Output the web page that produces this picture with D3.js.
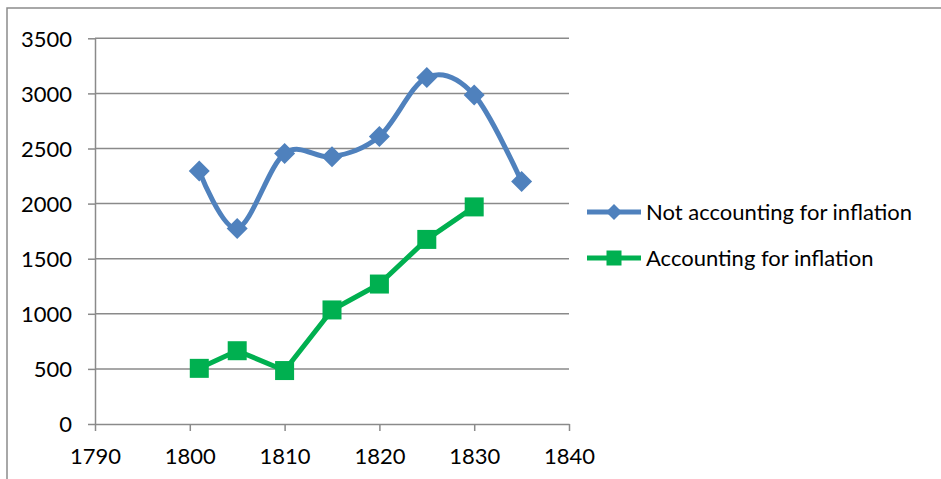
<!DOCTYPE html>
<html>
<head>
<meta charset="utf-8">
<script src="https://cdn.jsdelivr.net/npm/d3@7"></script>
<style>
  html, body { margin: 0; padding: 0; background: #fff; }
  svg { display: block; font-family: Lato, "Open Sans", sans-serif; }
</style>
</head>
<body>
<svg id="chart" width="941" height="479"></svg>
<script>
// Years sampled for each series
const yearsNotAdj = [1801, 1805, 1810, 1815, 1820, 1825, 1830, 1835];
const valuesNotAdj = [2295, 1775, 2455, 2425, 2610, 3145, 2985, 2200];

const yearsAdj = [1801, 1805, 1810, 1815, 1820, 1825, 1830];
const valuesAdj = [505, 665, 485, 1035, 1270, 1675, 1970];

const seriesNames = ["Not accounting for inflation", "Accounting for inflation"];
const seriesColors = ["#4f81bd", "#00b050"];

const xTicks = [1790, 1800, 1810, 1820, 1830, 1840];
const yTicks = [0, 500, 1000, 1500, 2000, 2500, 3000, 3500];

const svg = d3.select("#chart");
const gridColor = "#8a8a8a";
const fontSize = 22;

// Outer chart frame (left and top edges visible)
svg.append("path")
  .attr("d", "M7,479 L7,8 L941,8")
  .attr("fill", "none")
  .attr("stroke", "#8c8c8c")
  .attr("stroke-width", 1.5);

const x = d3.scaleLinear().domain([1790, 1840]).range([95, 569]);
const y = d3.scaleLinear().domain([0, 3500]).range([424, 38.3]);

// Horizontal gridlines
svg.append("g")
  .selectAll("line")
  .data(yTicks.filter(d => d > 0))
  .join("line")
  .attr("x1", x(1790)).attr("x2", x(1840))
  .attr("y1", d => y(d)).attr("y2", d => y(d))
  .attr("stroke", gridColor)
  .attr("stroke-width", 1.5);

// Y axis
const yAxis = svg.append("g")
  .attr("transform", `translate(${x(1790)},0)`)
  .call(d3.axisLeft(y).tickValues(yTicks).tickFormat(d3.format("d"))
    .tickSize(7).tickSizeOuter(0).tickPadding(16));
yAxis.selectAll("path, line").attr("stroke", gridColor).attr("stroke-width", 1.5);
yAxis.selectAll("text")
  .attr("font-size", fontSize)
  .attr("font-family", "Lato, sans-serif")
  .attr("fill", "#000")
  .attr("dy", "0.36em");

// X axis
const xAxis = svg.append("g")
  .attr("transform", `translate(0,${y(0)})`)
  .call(d3.axisBottom(x).tickValues(xTicks).tickFormat(d3.format("d")).tickSize(7).tickSizeOuter(0));
xAxis.selectAll("path, line").attr("stroke", gridColor).attr("stroke-width", 1.5);
xAxis.selectAll("text")
  .attr("font-size", fontSize)
  .attr("font-family", "Lato, sans-serif")
  .attr("fill", "#000")
  .attr("y", 40)
  .attr("dy", 0);

const notAdj = yearsNotAdj.map((yr, i) => ({ year: yr, value: valuesNotAdj[i] }));
const adj = yearsAdj.map((yr, i) => ({ year: yr, value: valuesAdj[i] }));

// Smoothed line for nominal values
svg.append("path")
  .datum(notAdj)
  .attr("fill", "none")
  .attr("stroke", seriesColors[0])
  .attr("stroke-width", 5)
  .attr("stroke-linejoin", "round")
  .attr("d", d3.line().x(d => x(d.year)).y(d => y(d.value)).curve(d3.curveCardinal.tension(0)));

// Straight line for inflation-adjusted values
svg.append("path")
  .datum(adj)
  .attr("fill", "none")
  .attr("stroke", seriesColors[1])
  .attr("stroke-width", 5)
  .attr("stroke-linejoin", "round")
  .attr("d", d3.line().x(d => x(d.year)).y(d => y(d.value)));

// Diamond markers
const diamond = r => `M0,${-r} L${r},0 L0,${r} L${-r},0 Z`;
svg.append("g")
  .selectAll("path")
  .data(notAdj)
  .join("path")
  .attr("transform", d => `translate(${x(d.year)},${y(d.value)})`)
  .attr("d", diamond(10.5))
  .attr("fill", seriesColors[0]);

// Square markers
const sq = 19;
svg.append("g")
  .selectAll("rect")
  .data(adj)
  .join("rect")
  .attr("x", d => x(d.year) - sq / 2)
  .attr("y", d => y(d.value) - sq / 2)
  .attr("width", sq).attr("height", sq)
  .attr("fill", seriesColors[1]);

// Legend
const legend = svg.append("g");
const legendRows = [212, 258];
seriesNames.forEach((name, i) => {
  const g = legend.append("g").attr("transform", `translate(0,${legendRows[i]})`);
  g.append("line")
    .attr("x1", 587).attr("x2", 641)
    .attr("stroke", seriesColors[i]).attr("stroke-width", 5);
  if (i === 0) {
    g.append("path").attr("transform", "translate(614,0)").attr("d", diamond(8)).attr("fill", seriesColors[i]);
  } else {
    g.append("rect").attr("x", 614 - 7.5).attr("y", -7.5).attr("width", 15).attr("height", 15).attr("fill", seriesColors[i]);
  }
  g.append("text")
    .attr("x", 646).attr("dy", "0.36em")
    .attr("font-size", fontSize)
    .attr("font-family", "Lato, sans-serif")
    .attr("fill", "#000")
    .text(name);
});
</script>
</body>
</html>
